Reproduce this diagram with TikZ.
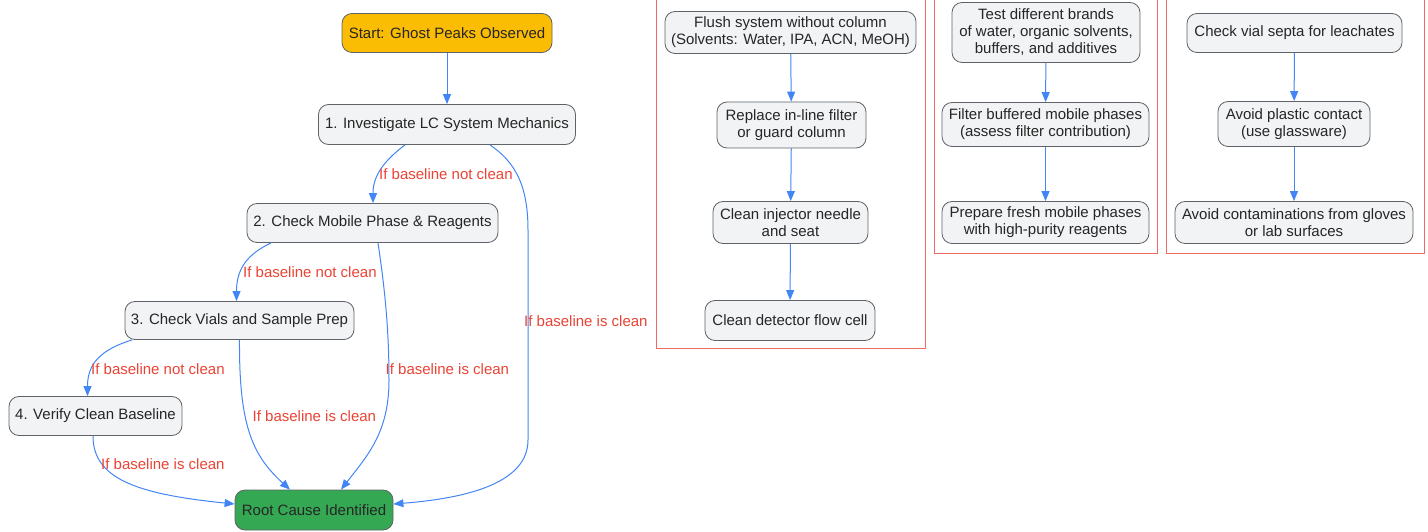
\documentclass[tikz,border=0pt]{standalone}
\usepackage{fontspec}
\setmainfont{Liberation Sans}
\usetikzlibrary{arrows.meta,positioning,calc}
\definecolor{nodefill}{HTML}{F1F3F4}
\definecolor{nodeborder}{HTML}{5F6368}
\definecolor{arrowblue}{HTML}{4285F4}
\definecolor{labelred}{HTML}{EA4335}
\definecolor{startfill}{HTML}{FBBC04}
\definecolor{rootfill}{HTML}{34A853}
\definecolor{frame}{HTML}{EE6A62}
\tikzset{
  box/.style={draw=nodeborder, fill=nodefill, rounded corners=10pt, line width=0.8pt,
    align=center, inner sep=0pt, font=\fontsize{15}{17}\selectfont, text=black!85},
  conn/.style={draw=arrowblue, line width=1pt, -{Triangle[length=10pt,width=8pt]}},
  lbl/.style={text=labelred, font=\fontsize{15}{17}\selectfont, inner sep=0pt},
  panel/.style={draw=frame, line width=1pt}
}
\begin{document}
\begin{tikzpicture}[x=1pt,y=-1pt]
\useasboundingbox (0,0) rectangle (1428,532);
% panels
\draw[panel] (656,-2) -- (656,348) -- (925,348) -- (925,-2);
\draw[panel] (934,-2) -- (934,253) -- (1157,253) -- (1157,-2);
\draw[panel] (1166,-2) -- (1166,253) -- (1424,253) -- (1424,-2);

% main flow
\node[box, fill=startfill, minimum width=210pt, minimum height=39pt] (start) at (447,33) {Start: Ghost Peaks Observed};
\node[box, minimum width=257pt, minimum height=40pt] (n1) at (447,124.5) {1. Investigate LC System Mechanics};
\node[box, minimum width=251pt, minimum height=39pt] (n2) at (372.5,223) {2. Check Mobile Phase \& Reagents};
\node[box, minimum width=229pt, minimum height=38pt] (n3) at (239.5,320.5) {3. Check Vials and Sample Prep};
\node[box, minimum width=173pt, minimum height=39pt] (n4) at (95.5,416) {4. Verify Clean Baseline};
\node[box, fill=rootfill, minimum width=158pt, minimum height=40pt] (root) at (314,510) {Root Cause Identified};

\draw[conn] (start) -- (n1);
\draw[conn] ([xshift=-42pt]n1.south) .. controls (385,160) and (373,175) .. ([xshift=0.5pt]n2.north);
\node[lbl, anchor=west] (l1) at (379,174) {If baseline not clean};
\draw[conn] ([xshift=43pt]n1.south) .. controls (515,162) and (528,185) .. (528,230) -- (528,440) .. controls (528,482) and (470,498) .. ([yshift=6pt]root.east);
\node[lbl, anchor=west] (l2) at (524,321) {If baseline is clean};
\draw[conn] ([xshift=-101.5pt]n2.south) .. controls (248,254) and (236.5,268) .. ([xshift=-3pt]n3.north);
\node[lbl, anchor=west] (l3) at (243,272) {If baseline not clean};
\draw[conn] ([xshift=5.5pt]n2.south) .. controls (385,290) and (389,330) .. (389,380) .. controls (389,432) and (368,455) .. ([xshift=27pt]root.north);
\node[lbl, anchor=west] (l4) at (385.5,369) {If baseline is clean};
\draw[conn] ([xshift=-107.5pt]n3.south) .. controls (100,350) and (87.5,364) .. ([xshift=-8pt]n4.north);
\node[lbl, anchor=west] (l5) at (91,369) {If baseline not clean};
\draw[conn] (n3.south) .. controls (239,425) and (252,455) .. ([xshift=-24pt]root.north);
\node[lbl, anchor=west] (l6) at (252.5,416) {If baseline is clean};
\draw[conn] ([xshift=-2.5pt]n4.south) .. controls (93,478) and (135,494) .. ([yshift=6pt]root.west);
\node[lbl, anchor=west] (l7) at (101,464) {If baseline is clean};

% panel 1
\node[box, minimum width=251pt, minimum height=42pt] (f1) at (790.5,32.5) {Flush system without column\\(Solvents: Water, IPA, ACN, MeOH)};
\node[box, minimum width=149pt, minimum height=46pt] (f2) at (791.5,125) {Replace in-line filter\\or guard column};
\node[box, minimum width=155pt, minimum height=42pt] (f3) at (790.5,222.5) {Clean injector needle\\and seat};
\node[box, minimum width=170pt, minimum height=40pt] (f4) at (790,320.5) {Clean detector flow cell};
\draw[conn] (f1) -- (f2);
\draw[conn] (f2) -- (f3);
\draw[conn] (f3) -- (f4);

% panel 2
\node[box, minimum width=188pt, minimum height=60pt] (m1) at (1046,32.5) {Test different brands\\of water, organic solvents,\\buffers, and additives};
\node[box, minimum width=207pt, minimum height=44pt] (m2) at (1045.5,124.5) {Filter buffered mobile phases\\(assess filter contribution)};
\node[box, minimum width=207pt, minimum height=42pt] (m3) at (1045.5,222.5) {Prepare fresh mobile phases\\with high-purity reagents};
\draw[conn] (m1) -- (m2);
\draw[conn] (m2) -- (m3);

% panel 3
\node[box, minimum width=215pt, minimum height=39pt] (v1) at (1294.5,33) {Check vial septa for leachates};
\node[box, minimum width=152pt, minimum height=45pt] (v2) at (1294,124) {Avoid plastic contact\\(use glassware)};
\node[box, minimum width=238pt, minimum height=42pt] (v3) at (1294,222.5) {Avoid contaminations from gloves\\or lab surfaces};
\draw[conn] (v1) -- (v2);
\draw[conn] (v2) -- (v3);
\end{tikzpicture}
\end{document}
